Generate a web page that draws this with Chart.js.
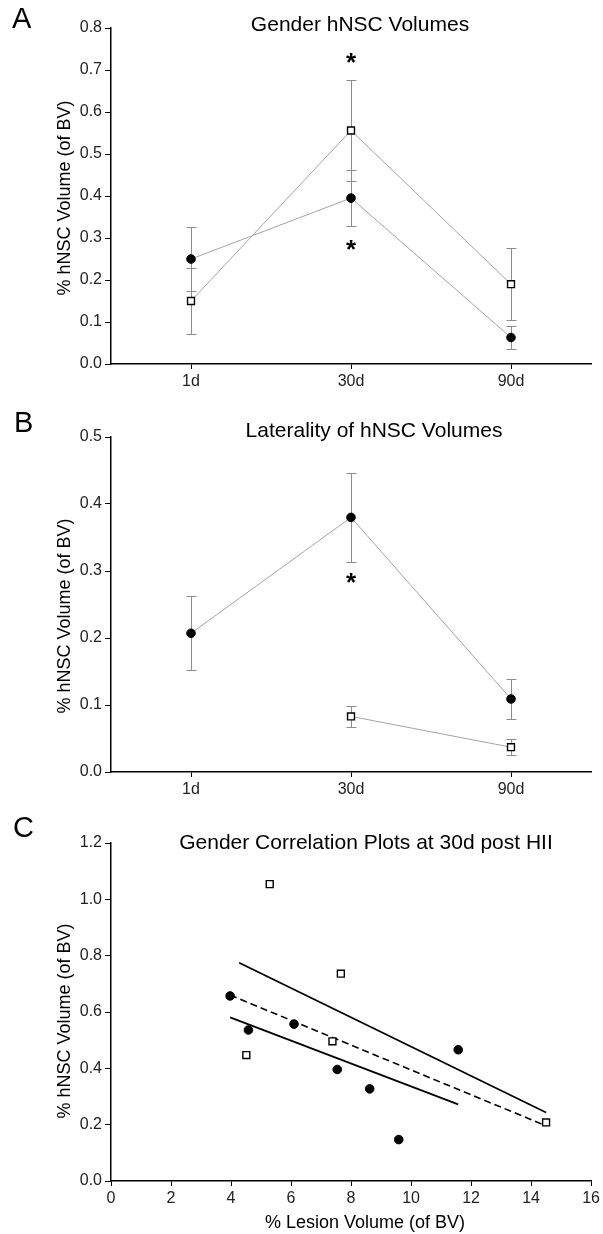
<!DOCTYPE html>
<html>
<head>
<meta charset="utf-8">
<script src="https://cdn.jsdelivr.net/npm/chart.js@4.4.1/dist/chart.umd.min.js"></script>
<style>
  body { margin: 0; background: #fff; }
  #wrap { position: relative; width: 603px; height: 1234px; }
  canvas { position: absolute; left: 0; }
</style>
</head>
<body>
<div id="wrap">
  <canvas id="chartA" width="603" height="395" style="top:0px"></canvas>
  <canvas id="chartB" width="603" height="405" style="top:395px"></canvas>
  <canvas id="chartC" width="603" height="434" style="top:800px"></canvas>
</div>
<script>
// time points for panels A and B
const days = ['1d', '30d', '90d'];

// A - gender: filled circles / open squares, mean and SEM
const genderFilled = [0.25, 0.395, 0.063];
const genderFilledSem = [0.077, 0.067, 0.027];
const genderOpen = [0.15, 0.556, 0.19];
const genderOpenSem = [0.078, 0.12, 0.086];
const genderStarDays = ['30d', '30d'];
const genderStarVals = [0.728, 0.283];

// B - laterality
const lateralFilled = [0.207, 0.38, 0.109];
const lateralFilledSem = [0.055, 0.066, 0.03];
const lateralOpen = [null, 0.083, 0.037];
const lateralOpenSem = [null, 0.016, 0.012];
const lateralStarDays = ['30d'];
const lateralStarVals = [0.29];

// C - correlation at 30d (x = % lesion volume, y = % hNSC volume)
const lesionFilled = [3.97, 4.58, 6.10, 7.54, 8.62, 9.59, 11.57];
const hnscFilled = [0.657, 0.536, 0.557, 0.396, 0.327, 0.147, 0.466];
const lesionOpen = [5.29, 4.51, 7.66, 7.38, 14.50];
const hnscOpen = [1.054, 0.447, 0.736, 0.496, 0.208];
// fitted lines (end points)
const fitUpperX = [4.27, 14.5];
const fitUpperY = [0.775, 0.243];
const fitLowerX = [3.97, 11.57];
const fitLowerY = [0.581, 0.272];
const fitDashX = [3.97, 14.5];
const fitDashY = [0.66, 0.196];

const FONT = '"Liberation Sans", Arial, Helvetica, sans-serif';
Chart.defaults.font.family = FONT;
Chart.defaults.color = '#222';
Chart.defaults.animation = false;

const toPoints = (xs, ys) => xs.map((x, i) => ({ x: x, y: ys[i] }));

function yAxis(max, step, width) {
  return {
    min: 0, max: max,
    ticks: { stepSize: step, font: { size: 16 }, color: '#222', padding: 3,
             callback: v => v.toFixed(1) },
    grid: { drawOnChartArea: false, color: '#000', tickLength: 6, lineWidth: 1 },
    border: { color: '#000', width: 1.5 },
    afterFit: s => { s.width = width; }
  };
}

function dayAxis(h) {
  return {
    type: 'category', offset: true,
    ticks: { font: { size: 16 }, color: '#222', padding: 3 },
    grid: { offset: false, drawOnChartArea: false, color: '#000', tickLength: 5, lineWidth: 1 },
    border: { color: '#000', width: 1.5 },
    afterFit: s => { s.height = h; }
  };
}

// error bars from dataset.sem, drawn under the lines and markers
const errorBars = {
  id: 'errorBars',
  beforeDatasetsDraw(chart) {
    const ctx = chart.ctx, xs = chart.scales.x, ys = chart.scales.y;
    ctx.save();
    ctx.strokeStyle = '#8c8c8c';
    ctx.lineWidth = 1;
    chart.data.datasets.forEach(ds => {
      if (!ds.sem) return;
      ds.data.forEach((m, i) => {
        if (m === null || ds.sem[i] === null) return;
        const px = Math.round(xs.getPixelForValue(i)) + 0.5;
        const top = Math.round(ys.getPixelForValue(m + ds.sem[i])) + 0.5;
        const bot = Math.round(ys.getPixelForValue(m - ds.sem[i])) + 0.5;
        ctx.beginPath();
        ctx.moveTo(px, top); ctx.lineTo(px, bot);
        ctx.moveTo(px - 5, top); ctx.lineTo(px + 5, top);
        ctx.moveTo(px - 5, bot); ctx.lineTo(px + 5, bot);
        ctx.stroke();
      });
    });
    ctx.restore();
  }
};

// panel letter, title, axis titles and significance stars
function panelText(cfg) {
  return {
    id: 'panelText',
    afterDraw(chart) {
      const ctx = chart.ctx;
      ctx.save();
      ctx.fillStyle = '#000';
      ctx.textBaseline = 'alphabetic';
      ctx.textAlign = 'left';
      ctx.font = '29px ' + FONT;
      ctx.fillText(cfg.letter, cfg.letterX, cfg.letterY);

      ctx.textAlign = 'center';
      ctx.font = '21px ' + FONT;
      ctx.fillText(cfg.title, cfg.titleX, cfg.titleY);

      if (cfg.xTitle) {
        ctx.font = '18px ' + FONT;
        ctx.fillText(cfg.xTitle, cfg.xTitleX, cfg.xTitleY);
      }

      if (cfg.starDays) {
        ctx.font = 'bold 26px ' + FONT;
        cfg.starDays.forEach((d, i) => {
          const px = chart.scales.x.getPixelForValue(days.indexOf(d));
          const py = chart.scales.y.getPixelForValue(cfg.starVals[i]);
          ctx.fillText('*', px, py + 13);
        });
      }

      ctx.font = '18px ' + FONT;
      ctx.textBaseline = 'middle';
      ctx.translate(65, cfg.yTitleY);
      ctx.rotate(-Math.PI / 2);
      ctx.fillText(cfg.yTitle, 0, 0);
      ctx.restore();
    }
  };
}

function meanSet(values, sem, style) {
  const ds = {
    data: values, sem: sem,
    borderColor: '#a3a3a3', borderWidth: 1,
    pointBorderColor: '#000', spanGaps: false
  };
  if (style === 'circle') {
    ds.pointStyle = 'circle';
    ds.pointRadius = 4.3;
    ds.pointBorderWidth = 1;
    ds.pointBackgroundColor = '#000';
  } else {
    ds.pointStyle = 'rect';
    ds.pointRadius = 4.9;
    ds.pointBorderWidth = 1.4;
    ds.pointBackgroundColor = '#fff';
  }
  return ds;
}

// Panel A
new Chart(document.getElementById('chartA'), {
  type: 'line',
  data: {
    labels: days,
    datasets: [
      meanSet(genderFilled, genderFilledSem, 'circle'),
      meanSet(genderOpen, genderOpenSem, 'rect')
    ]
  },
  options: {
    responsive: false, events: [],
    layout: { padding: { left: 0, right: 12, top: 28, bottom: 0 } },
    plugins: { legend: { display: false }, tooltip: { enabled: false } },
    scales: { x: dayAxis(31), y: yAxis(0.8, 0.1, 111) }
  },
  plugins: [errorBars, panelText({
    letter: 'A', letterX: 12, letterY: 28,
    title: 'Gender hNSC Volumes', titleX: 360, titleY: 31,
    yTitle: '% hNSC Volume (of BV)', yTitleY: 198,
    starDays: genderStarDays, starVals: genderStarVals
  })]
});

// Panel B
new Chart(document.getElementById('chartB'), {
  type: 'line',
  data: {
    labels: days,
    datasets: [
      meanSet(lateralFilled, lateralFilledSem, 'circle'),
      meanSet(lateralOpen, lateralOpenSem, 'rect')
    ]
  },
  options: {
    responsive: false, events: [],
    layout: { padding: { left: 0, right: 12, top: 42, bottom: 0 } },
    plugins: { legend: { display: false }, tooltip: { enabled: false } },
    scales: { x: dayAxis(28), y: yAxis(0.5, 0.1, 111) }
  },
  plugins: [errorBars, panelText({
    letter: 'B', letterX: 14, letterY: 37,
    title: 'Laterality of hNSC Volumes', titleX: 374, titleY: 42,
    yTitle: '% hNSC Volume (of BV)', yTitleY: 221,
    starDays: lateralStarDays, starVals: lateralStarVals
  })]
});

// Panel C
new Chart(document.getElementById('chartC'), {
  type: 'scatter',
  data: {
    datasets: [
      { data: toPoints(lesionFilled, hnscFilled), pointStyle: 'circle', pointRadius: 4.3,
        pointBorderWidth: 1, pointBackgroundColor: '#000', pointBorderColor: '#000' },
      { data: toPoints(lesionOpen, hnscOpen), pointStyle: 'rect', pointRadius: 4.9,
        pointBorderWidth: 1.4, pointBackgroundColor: '#fff', pointBorderColor: '#000' },
      { data: toPoints(fitUpperX, fitUpperY), showLine: true, pointRadius: 0,
        borderColor: '#000', borderWidth: 1.8 },
      { data: toPoints(fitLowerX, fitLowerY), showLine: true, pointRadius: 0,
        borderColor: '#000', borderWidth: 1.8 },
      { data: toPoints(fitDashX, fitDashY), showLine: true, pointRadius: 0,
        borderColor: '#000', borderWidth: 1.6, borderDash: [7, 4] }
    ]
  },
  options: {
    responsive: false, events: [],
    layout: { padding: { left: 0, right: 11, top: 43, bottom: 0 } },
    plugins: { legend: { display: false }, tooltip: { enabled: false } },
    scales: {
      x: {
        type: 'linear', min: 0, max: 16,
        ticks: { stepSize: 2, font: { size: 16 }, color: '#222', padding: 3 },
        grid: { drawOnChartArea: false, color: '#000', tickLength: 5, lineWidth: 1 },
        border: { color: '#000', width: 1.5 },
        afterFit: s => { s.height = 53; }
      },
      y: yAxis(1.2, 0.2, 111)
    }
  },
  plugins: [panelText({
    letter: 'C', letterX: 13, letterY: 37,
    title: 'Gender Correlation Plots at 30d post HII', titleX: 366, titleY: 49,
    yTitle: '% hNSC Volume (of BV)', yTitleY: 221,
    xTitle: '% Lesion Volume (of BV)', xTitleX: 365, xTitleY: 428
  })]
});
</script>
</body>
</html>
